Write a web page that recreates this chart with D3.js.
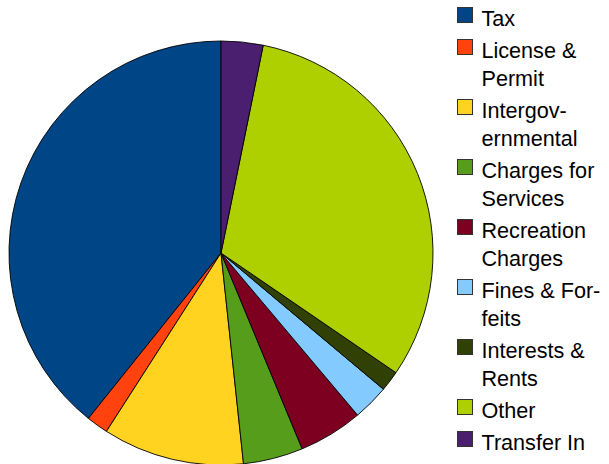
<!DOCTYPE html>
<html>
<head>
<meta charset="utf-8">
<script src="https://cdn.jsdelivr.net/npm/d3@7"></script>
<style>
  body { margin: 0; background: #fff; }
  svg { display: block; }
  .legend text { font-family: "Liberation Sans", Arial, sans-serif; font-size: 21.6px; fill: #000; }
</style>
</head>
<body>
<div id="chart"></div>
<script>
// categories in legend order (wrapped lines split by \n)
const categories = ['Tax', 'License &\nPermit', 'Intergov-\nernmental', 'Charges for\nServices',
  'Recreation\nCharges', 'Fines & For-\nfeits', 'Interests &\nRents', 'Other', 'Transfer In'];
// share of revenue, percent
const values = [39.25, 1.67, 10.78, 4.56, 4.89, 2.75, 1.56, 31.36, 3.19];
const colors = ['#004586', '#ff420e', '#ffd320', '#579d1c', '#7e0021', '#83caff', '#314004', '#aecf00', '#4b1f6f'];

const width = 609;
const height = 464;

const svg = d3.select('#chart')
  .append('svg')
  .attr('width', width)
  .attr('height', height);

const cx = 221, cy = 253, radius = 212;

// counterclockwise from 12 o'clock, like the office suite draws it
const pie = d3.pie()
  .sort(null)
  .value((d) => d.value)
  .startAngle(0)
  .endAngle(-2 * Math.PI);

const arc = d3.arc().innerRadius(0).outerRadius(radius);

const data = categories.map((c, i) => ({ name: c, value: values[i], color: colors[i] }));

svg.append('g')
  .attr('transform', 'translate(' + cx + ',' + cy + ')')
  .selectAll('path')
  .data(pie(data))
  .enter()
  .append('path')
  .attr('d', arc)
  .attr('fill', (d) => d.data.color)
  .attr('stroke', '#000')
  .attr('stroke-width', 0.9)
  .attr('stroke-linejoin', 'round');

// legend
const lineH = 28;
const entryGap = 32;
const legend = svg.append('g').attr('class', 'legend');
let y = 26;
data.forEach((d) => {
  const lines = d.name.split('\n');
  const g = legend.append('g');
  g.append('rect')
    .attr('x', 457.5)
    .attr('y', y - 18.5)
    .attr('width', 15)
    .attr('height', 15)
    .attr('fill', d.color)
    .attr('stroke', '#333')
    .attr('stroke-width', 1);
  const t = g.append('text').attr('x', 481.5).attr('y', y);
  lines.forEach((l, i) => {
    t.append('tspan')
      .attr('x', 481.5)
      .attr('y', y + i * lineH)
      .text(l);
  });
  y += (lines.length - 1) * lineH + entryGap;
});
</script>
</body>
</html>
